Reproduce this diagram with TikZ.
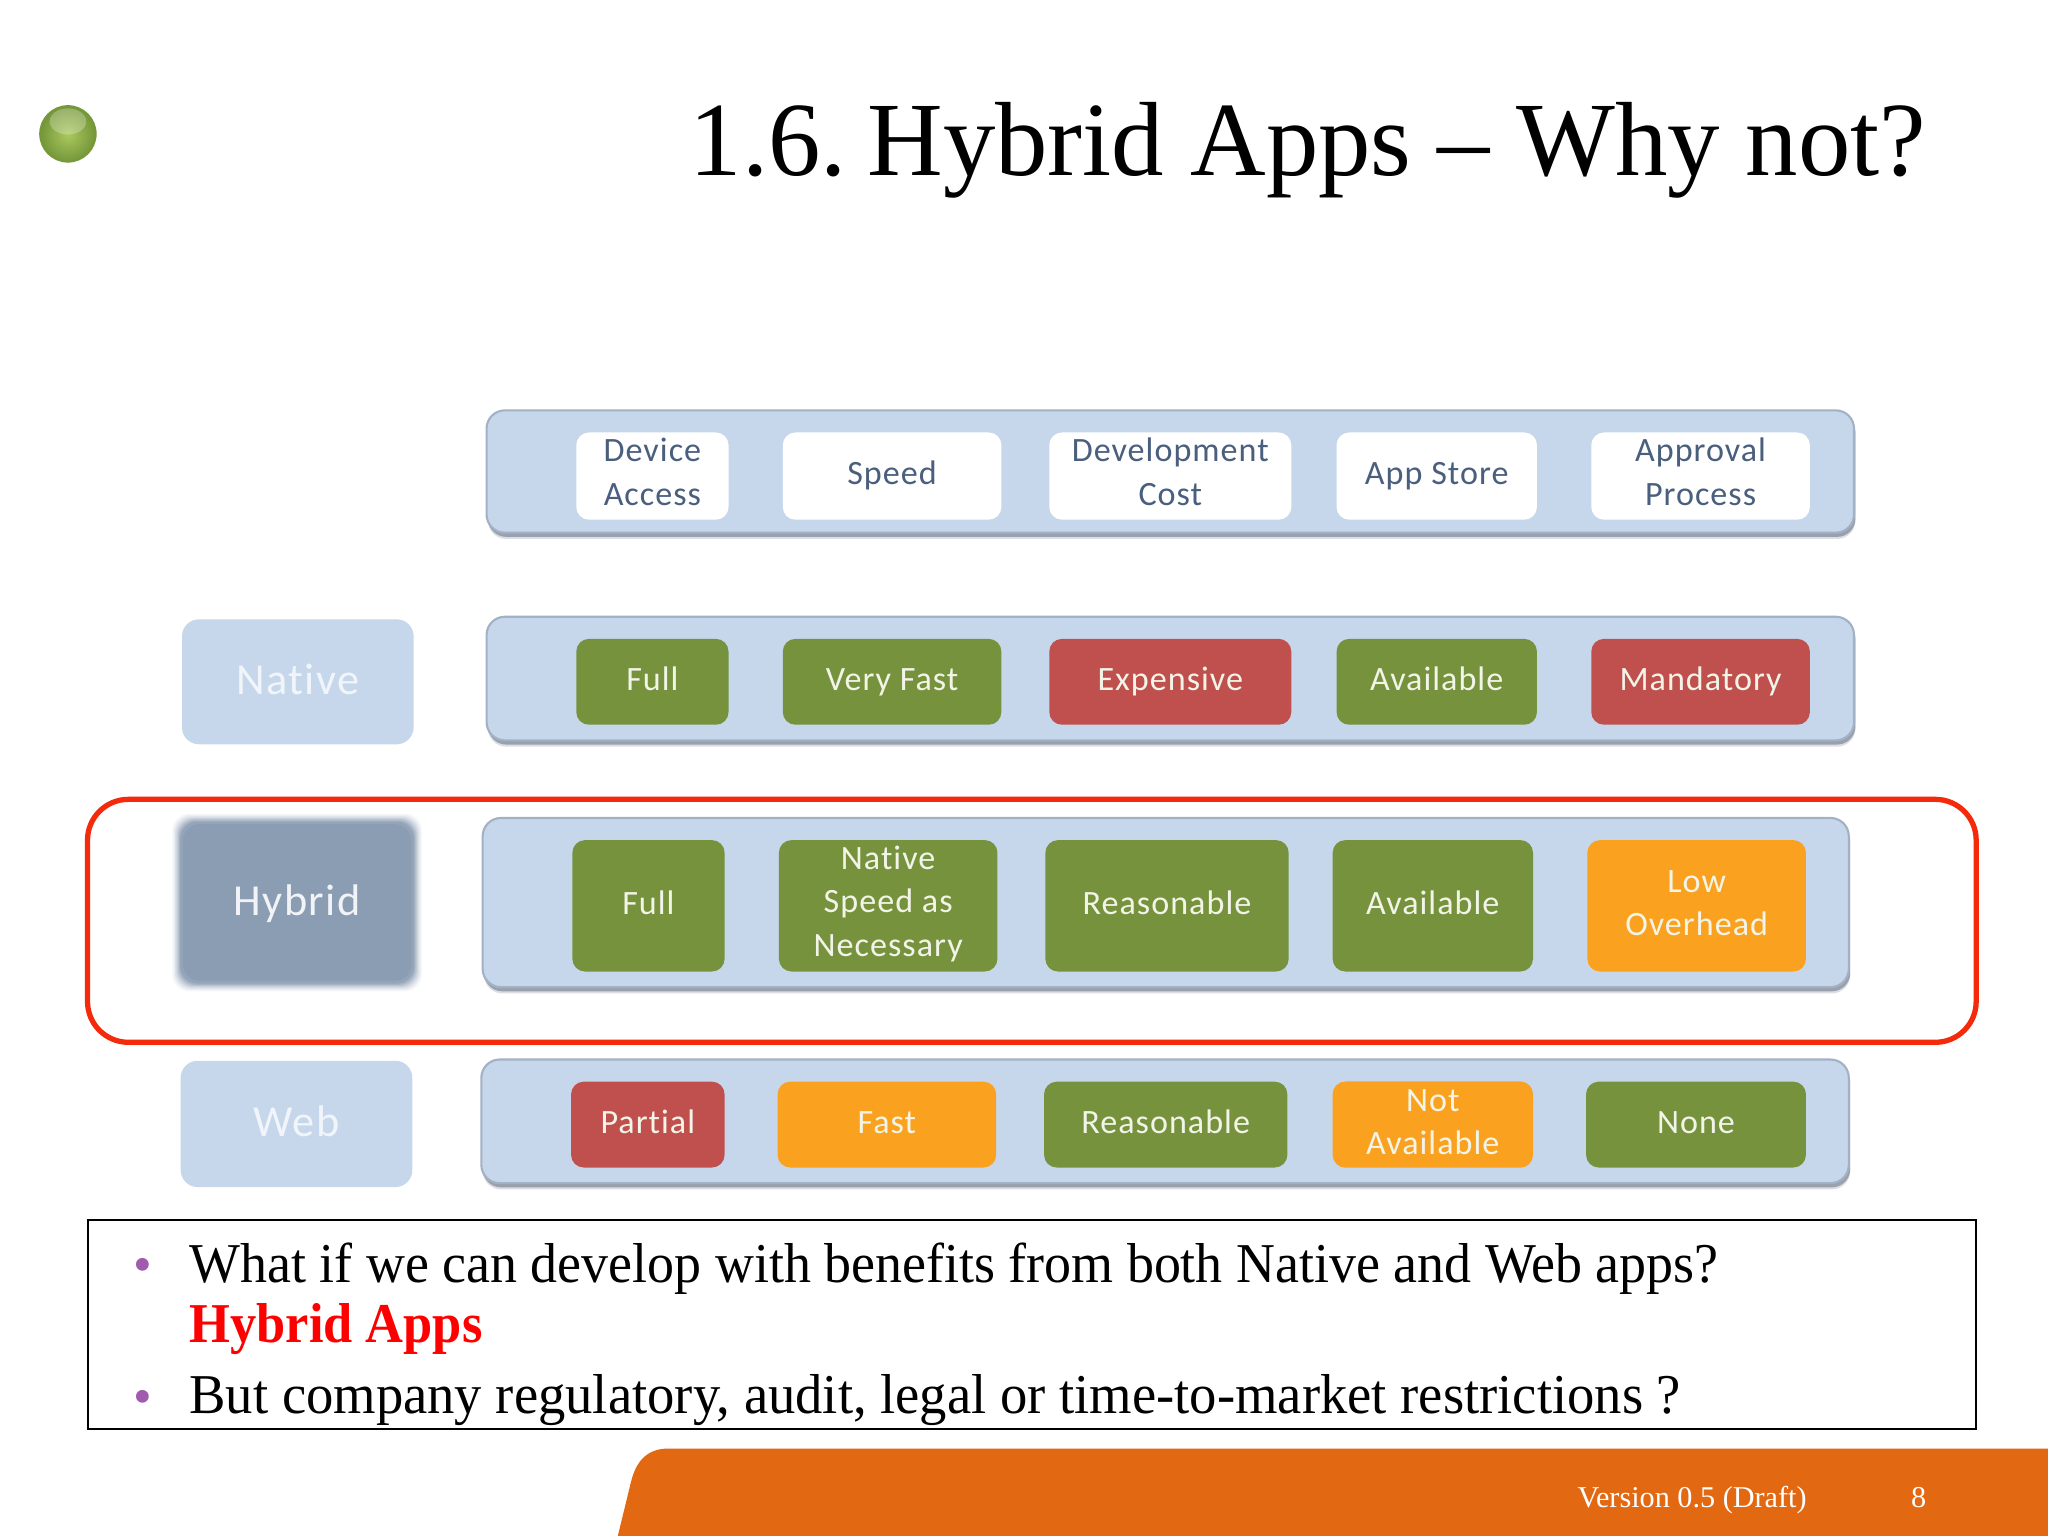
\documentclass[tikz,border=0pt]{standalone}
\usepackage{fontspec}
\setmainfont{Liberation Serif}
\newfontfamily\lblfont{Carlito}[LetterSpace=3,Ligatures=NoCommon]
\newfontfamily\titlefont{Liberation Serif}[FakeStretch=0.993]
\newfontfamily\bodyA{Liberation Serif}[FakeStretch=0.959]
\newfontfamily\bodyB{Liberation Serif}[FakeStretch=0.971]
\newfontfamily\bodyC{Liberation Serif}[FakeStretch=0.933]
\usetikzlibrary{shadows,shapes.geometric}
\definecolor{barblue}{HTML}{C6D7EC}
\definecolor{barshadow}{HTML}{98A1AD}
\definecolor{barline}{HTML}{A3B1C4}
\definecolor{cellgreen}{HTML}{76923C}
\definecolor{cellred}{HTML}{C0504D}
\definecolor{cellorange}{HTML}{FAA21F}
\definecolor{headtext}{HTML}{4A5F7E}
\definecolor{celltext}{HTML}{F2F4E8}
\definecolor{hybridfill}{HTML}{8A9DB3}
\definecolor{redbox}{HTML}{F42A0A}
\definecolor{footer}{HTML}{E36812}
\definecolor{bulletc}{HTML}{A05AAE}
\definecolor{ballin}{HTML}{A9C85E}
\definecolor{ballout}{HTML}{76983A}
\tikzset{
 barbox/.style={draw=barline,line width=3pt,outer sep=0pt,fill=barblue,rounded corners=26pt,
   drop shadow={shadow xshift=2pt,shadow yshift=-9pt,fill=barshadow,opacity=.35},
   drop shadow={shadow xshift=2pt,shadow yshift=-6pt,fill=barshadow,opacity=1}},
 cellbox/.style={rounded corners=18pt,outer sep=0pt,align=center,inner sep=0pt,font=\lblfont\fontsize{48.5}{62}\selectfont,text=celltext,execute at begin node=\strut,execute at end node=\strut},
 multi/.style={execute at begin node=\rule{0pt}{#1}},
 headcell/.style={cellbox,fill=white,text=headtext},
 goodcell/.style={cellbox,fill=cellgreen},
 badcell/.style={cellbox,fill=cellred},
 midcell/.style={cellbox,fill=cellorange},
 sidebox/.style={rounded corners=24pt,outer sep=0pt,fill=barblue,align=center,inner sep=0pt,text=white!75!barblue,font=\lblfont\fontsize{63}{70}\selectfont,execute at begin node=\strut,execute at end node=\strut,execute at begin node=\rule{0pt}{58pt}},
 bodytext/.style={anchor=base west,inner sep=0pt},
 footertext/.style={anchor=base,inner sep=0pt,text=white,font=\fontsize{43}{48}\selectfont},
 bulletmark/.style={anchor=base,inner sep=0pt,text=bulletc,font=\fontsize{76}{90}\selectfont}
}
\newcommand{\boxat}[7]{%
 \pgfmathsetmacro{\mx}{(#3+#5)/2}\pgfmathsetmacro{\my}{(#4+#6)/2}%
 \pgfmathsetmacro{\mw}{(#5-#3)*1.851}\pgfmathsetmacro{\mh}{(#6-#4)*1.851}%
 \node[#2,minimum width=\mw pt,minimum height=\mh pt] (#1) at (\mx,\my) {#7};}
\begin{document}
\begin{tikzpicture}[x=0.0653cm,y=-0.0653cm]
\useasboundingbox (0,0) rectangle (1568,1176);
\fill[white] (0,0) rectangle (1568,1176);
% footer band
\fill[footer] (473,1176) -- (483,1135) .. controls (487,1118) and (496,1109) .. (512,1109) -- (1568,1109) -- (1568,1176) -- cycle;
\node[footertext] (ver) at (1295.5,1154) {Version 0.5 (Draft)};
\node[footertext] (pg) at (1469,1154) {8};
% sphere
\fill[ballout] (52,102.5) circle (22);
\shade[inner color=ballin,outer color=ballout] (52,103) circle (20.5);
\fill[white,opacity=.25] (52,93) ellipse (14 and 10);
\node[bodytext,font=\titlefont\fontsize{150}{160}\selectfont] (title) at (528,134) {1.6.\hspace{-20pt} Hybrid Apps – Why not?};
% header
\boxat{bar0}{barbox}{370.5}{314}{1421.5}{408}{}
\boxat{h1}{headcell,multi=101pt}{441}{331}{558}{398}{Device\\Access}
\boxat{h2}{headcell}{599}{331}{767}{398}{Speed}
\boxat{h3}{headcell,multi=101pt}{803}{331}{989}{398}{Development\\Cost}
\boxat{h4}{headcell}{1023}{331}{1177}{398}{App Store}
\boxat{h5}{headcell,multi=101pt}{1218}{331}{1386}{398}{Approval\\Process}
% native
\boxat{lnative}{sidebox}{139}{474}{317}{570}{Native}
\boxat{bar1}{barbox}{370.5}{472}{1421.5}{567}{}
\boxat{n1}{goodcell}{441}{489}{558}{555}{Full}
\boxat{n2}{goodcell}{599}{489}{767}{555}{Very Fast}
\boxat{n3}{badcell}{803}{489}{989}{555}{Expensive}
\boxat{n4}{goodcell}{1023}{489}{1177}{555}{Available}
\boxat{n5}{badcell}{1218}{489}{1386}{555}{Mandatory}
% hybrid
\foreach \g/\o in {6/.08,5/.1,4/.14,3/.2,2/.28,1/.4,0/.6,-2/1}{
 \fill[hybridfill,opacity=\o,rounded corners=24pt] (138-\g,629-\g) rectangle (317+\g,753+\g);}
\boxat{lhybrid}{sidebox,fill=none,text=white!88!hybridfill,execute at begin node=\rule{0pt}{64pt}}{137}{628}{318}{750}{Hybrid}
\boxat{bar2}{barbox}{367.5}{626}{1417.5}{756}{}
\boxat{y1}{goodcell}{438}{643}{555}{744}{Full}
\boxat{y2}{goodcell,multi=163pt}{596}{643}{764}{744}{Native\\Speed as\\Necessary}
\boxat{y3}{goodcell}{800}{643}{987}{744}{Reasonable}
\boxat{y4}{goodcell}{1020}{643}{1174}{744}{Available}
\boxat{y5}{midcell,multi=104pt}{1215}{643}{1383}{744}{Low\\Overhead}
% web
\boxat{lweb}{sidebox}{138}{812}{316}{909}{Web}
\boxat{bar3}{barbox}{366.5}{811}{1417.5}{906}{}
\boxat{w1}{badcell}{437}{828}{555}{894}{Partial}
\boxat{w2}{midcell}{595}{828}{763}{894}{Fast}
\boxat{w3}{goodcell}{799}{828}{986}{894}{Reasonable}
\boxat{w4}{midcell,multi=104pt}{1020}{828}{1174}{894}{Not\\Available}
\boxat{w5}{goodcell}{1214}{828}{1383}{894}{None}
% red highlight
\draw[redbox,line width=7.5pt,rounded corners=58pt] (67,612) rectangle (1513,798);
% bottom box
\draw[black,line width=3pt] (67.5,934) rectangle (1513,1094);
\node[bulletmark] (b1) at (109,982) {•};
\node[bodytext,font=\bodyA\fontsize{80}{90}\selectfont] (t1) at (145,982) {What if we can develop with benefits from both Native and Web apps?};
\node[bodytext,text=red,font=\bodyC\bfseries\fontsize{80}{90}\selectfont] (t2) at (145,1028) {Hybrid Apps};
\node[bulletmark] (b2) at (109,1083) {•};
\node[bodytext,font=\bodyB\fontsize{80}{90}\selectfont] (t3) at (145,1082.5) {But company regulatory, audit, legal or time-to-market restrictions ?};
\end{tikzpicture}
\end{document}
